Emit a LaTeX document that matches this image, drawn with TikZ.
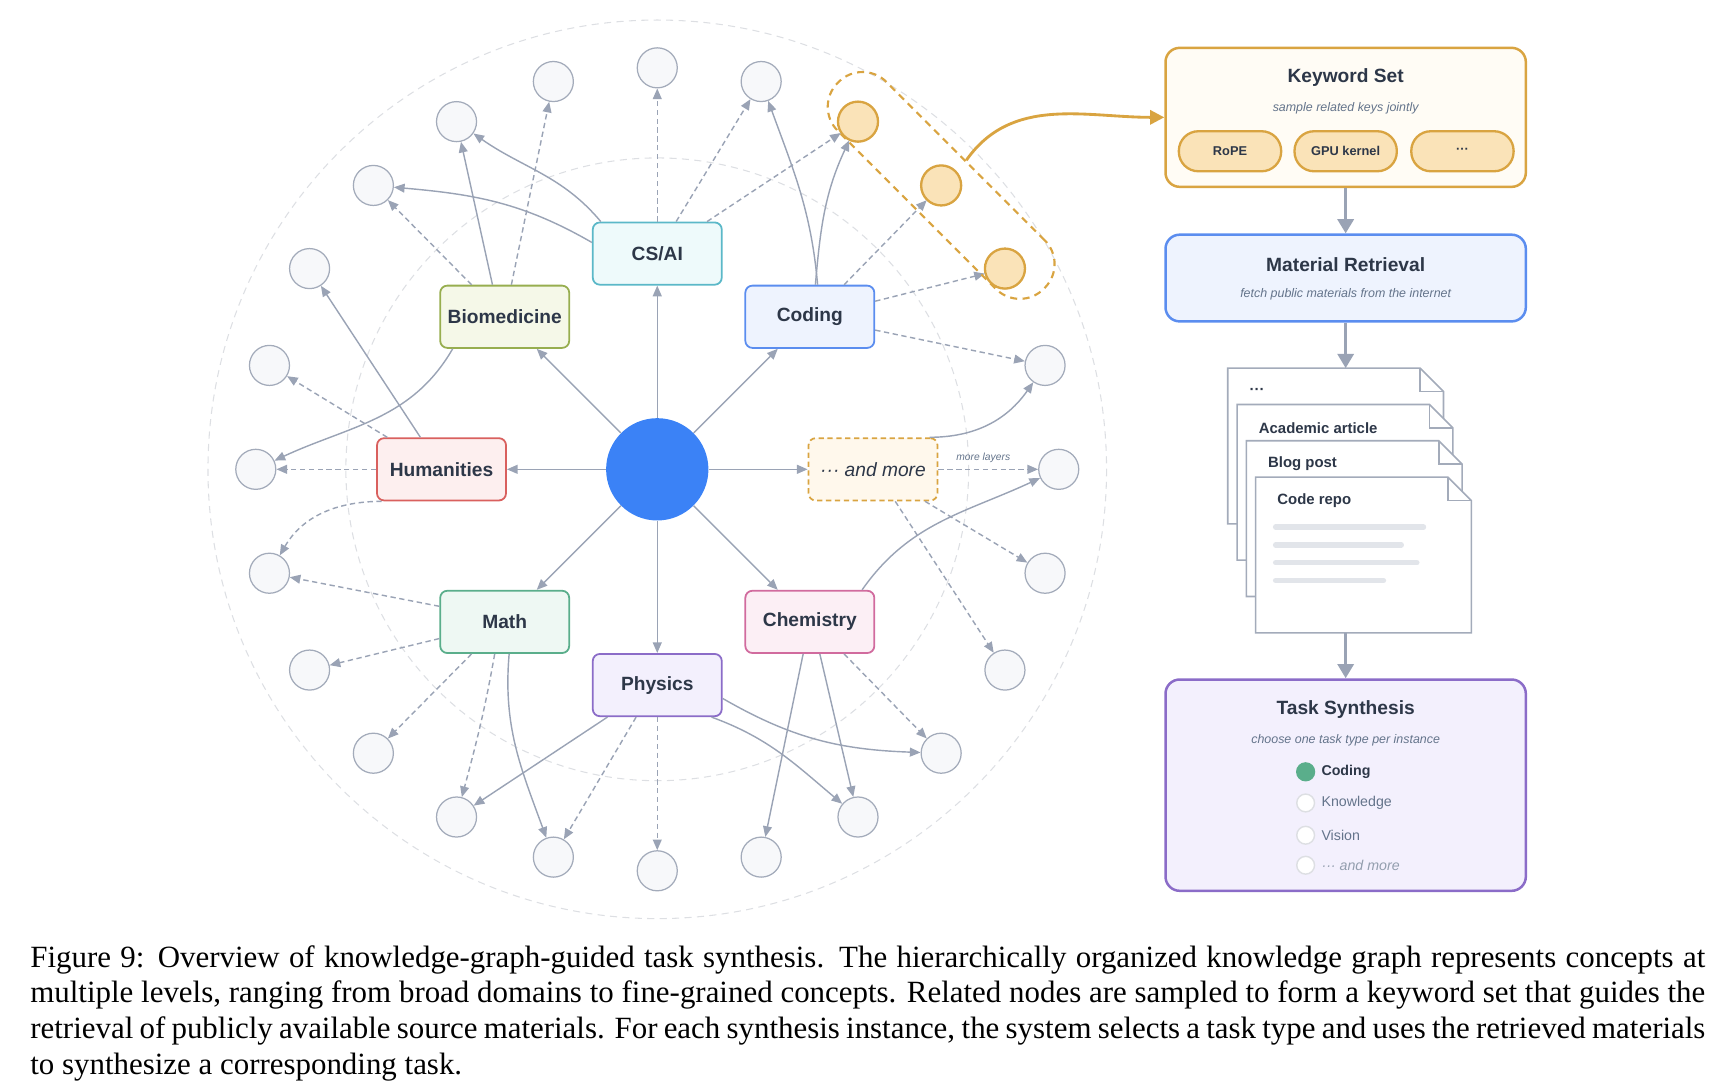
\documentclass[tikz,border=0pt]{standalone}
\usepackage{fontspec}
\setmainfont{Liberation Sans}
\newfontfamily\capfont{Liberation Serif}
\usetikzlibrary{arrows.meta,calc}

\definecolor{txt}{HTML}{2D3748}
\definecolor{subtxt}{HTML}{64748B}
\definecolor{edgegray}{HTML}{9AA3B5}
\definecolor{leafline}{HTML}{A3ABBA}
\definecolor{leaffill}{HTML}{F7F8FA}
\definecolor{orng}{HTML}{D9A441}
\definecolor{orngfill}{HTML}{FAE3B8}
\definecolor{kwfill}{HTML}{FFFCF5}
\definecolor{bluebd}{HTML}{5B8DEF}
\definecolor{bluefill}{HTML}{EEF3FE}
\definecolor{hubblue}{HTML}{3B82F6}
\definecolor{purpbd}{HTML}{8B6CC8}
\definecolor{purpfill}{HTML}{F3F0FD}
\definecolor{tealbd}{HTML}{5BB8C8}
\definecolor{tealfill}{HTML}{EEFAFB}
\definecolor{pinkbd}{HTML}{D16B9E}
\definecolor{pinkfill}{HTML}{FCEFF5}
\definecolor{greenbd}{HTML}{5AAE8B}
\definecolor{greenfill}{HTML}{EEF8F3}
\definecolor{redbd}{HTML}{D9605E}
\definecolor{redfill}{HTML}{FDEFEF}
\definecolor{olivebd}{HTML}{97AE4F}
\definecolor{olivefill}{HTML}{F5F8E8}
\definecolor{morefill}{HTML}{FFF8EC}
\definecolor{ringgray}{HTML}{DDDFE3}
\definecolor{barcol}{HTML}{E2E5EA}

\def\px{0.022cm}

\tikzset{
  leafnode/.style={circle, draw=leafline, fill=leaffill, line width=0.7pt, minimum size=36*\px, inner sep=0pt},
  orangeleaf/.style={leafnode, draw=orng, fill=orngfill, line width=1.3pt},
  domainbox/.style={rectangle, rounded corners=4pt, line width=1pt, minimum width=116*\px, minimum height=56*\px,
    font=\fontsize{10.8}{12}\selectfont\bfseries, text=txt},
  solidarr/.style={draw=edgegray, line width=0.8pt, -{Triangle[length=6pt,width=5pt]}},
  dashedarr/.style={solidarr, dash pattern=on 3pt off 2pt},
  flowarr/.style={draw=edgegray, line width=1.8pt, -{Triangle[length=8pt,width=9pt]}},
  panel/.style={rectangle, rounded corners=8pt, line width=1.4pt, minimum width=324*\px},
  ptitle/.style={font=\fontsize{10.8}{12}\selectfont\bfseries, text=txt},
  psub/.style={font=\fontsize{7}{8}\selectfont\itshape, text=subtxt},
  pill/.style={rectangle, rounded corners=11pt, draw=orng, fill=orngfill, line width=1.3pt,
    minimum width=92*\px, minimum height=36*\px, font=\fontsize{7.2}{8}\selectfont\bfseries, text=txt},
  radio/.style={circle, draw=ringgray, fill=white, line width=0.8pt, minimum size=16*\px, inner sep=0pt},
}

\begin{document}
\begin{tikzpicture}[x=\px, y=-\px]
\useasboundingbox (0,0) rectangle (1552,975);

% rings
\coordinate (ctr) at (591,422);
\draw[ringgray, dash pattern=on 4pt off 3pt, line width=0.6pt] (ctr) circle (404);
\draw[ringgray, dash pattern=on 4pt off 3pt, line width=0.6pt] (ctr) circle (280);

% leaves
\foreach \k in {0,...,23}
    \path (ctr) ++({-15*\k}:361) node[leafnode] (l\k) {};
\foreach \k in {2,3,4}
    \node[orangeleaf] at (l\k) {};

% center and domains
\node[circle, fill=hubblue, minimum size=92*\px] (hub) at (ctr) {};
\path (ctr) ++(-90:194) node[domainbox, draw=tealbd, fill=tealfill] (csai) {CS/AI};
\path (ctr) ++(-45:194) node[domainbox, draw=bluebd, fill=bluefill] (coding) {Coding};
\path (ctr) ++(0:194) node[domainbox, draw=orng, fill=morefill, dash pattern=on 3pt off 2pt,
    font=\fontsize{10.8}{12}\selectfont\itshape] (more) {··· and more};
\path (ctr) ++(45:194) node[domainbox, draw=pinkbd, fill=pinkfill] (chem) {Chemistry};
\path (ctr) ++(90:194) node[domainbox, draw=purpbd, fill=purpfill] (phys) {Physics};
\path (ctr) ++(135:194) node[domainbox, draw=greenbd, fill=greenfill] (math) {Math};
\path (ctr) ++(180:194) node[domainbox, draw=redbd, fill=redfill] (hum) {Humanities};
\path (ctr) ++(-135:194) node[domainbox, draw=olivebd, fill=olivefill] (bio) {Biomedicine};

\foreach \d in {csai,coding,more,chem,phys,math,hum,bio}
    \draw[solidarr] (hub) -- (\d);

% CS/AI
\draw[dashedarr] (csai) -- (l6);
\draw[dashedarr] (csai.north) ++(17,0) -- (l5);
\draw[dashedarr] (csai.north east) ++(-14,0) -- (l4);
\draw[solidarr] (csai.north west) ++(8,0) to[out=130, in=-35] (l8);
\draw[solidarr] (csai.west) ++(0,-10) to[out=150, in=-5] (l9);

% Coding
\draw[solidarr] (coding.north) ++(7,0) to[out=95, in=-70] (l5);
\draw[solidarr] (coding.north) ++(5,0) to[out=85, in=-115] (l4);
\draw[dashedarr] (coding.north east) ++(-28,0) -- (l3);
\draw[dashedarr] (coding.east) ++(0,-14) -- (l2);
\draw[dashedarr] (coding.east) ++(0,12) -- (l1);

% more layers
\draw[solidarr] (more.north east) ++(-8,0) to[out=0, in=-125] (l1);
\draw[dashedarr] (more) -- node[above, psub, font=\fontsize{5.8}{6}\selectfont\itshape, pos=0.45] {more layers} (l0);
\draw[dashedarr] (more.south east) ++(-12,0) -- (l23);
\draw[dashedarr] (more.south) ++(20,0) -- (l22);

% Chemistry
\draw[solidarr] (chem.north) ++(47,0) to[out=55, in=-155] (l0);
\draw[dashedarr] (chem.south east) ++(-28,0) -- (l21);
\draw[solidarr] (chem.south) ++(9,0) -- (l20);
\draw[solidarr] (chem.south) ++(-6,0) -- (l19);

% Physics
\draw[dashedarr] (phys) -- (l18);
\draw[dashedarr] (phys.south) ++(-19,0) -- (l17);
\draw[solidarr] (phys.south west) ++(14,0) -- (l16);
\draw[solidarr] (phys.south east) ++(-10,0) to[out=-20, in=140] (l20);
\draw[solidarr] (phys.east) ++(0,12) to[out=-30, in=178] (l21);

% Math
\draw[dashedarr] (math.west) ++(0,-14) -- (l13);
\draw[dashedarr] (math.west) ++(0,15) -- (l14);
\draw[dashedarr] (math.south west) ++(29,0) -- (l15);
\draw[dashedarr] (math.south) ++(-9,0) to[out=-100, in=75] (l16);
\draw[solidarr] (math.south) ++(4,0) to[out=-95, in=110] (l17);

% Humanities
\draw[dashedarr] (hum) -- (l12);
\draw[dashedarr] (hum.north west) ++(10,0) -- (l11);
\draw[solidarr] (hum.north) ++(-19,0) -- (l10);
\draw[dashedarr] (hum.south west) ++(5,0) to[out=180, in=60] (l13);

% Biomedicine
\draw[solidarr] (bio.south west) ++(12,0) to[out=-120, in=25] (l12);
\draw[dashedarr] (bio.north west) ++(29,0) -- (l9);
\draw[solidarr] (bio.north) ++(-11,0) -- (l8);
\draw[dashedarr] (bio.north) ++(6,0) -- (l7);

% sampled keys
\node[draw=orng, line width=1.2pt, dash pattern=on 4pt off 3pt, rounded corners=19pt,
    minimum width=262*\px, minimum height=62*\px, rotate=-45] (grp) at (l3) {};

% Keyword Set
\node[panel, draw=orng, fill=kwfill, minimum height=125*\px] (kw) at (1210,105.5) {};
\node[ptitle] (kwt) at (1210,70) {Keyword Set};
\node[psub] (kws) at (1210,97) {sample related keys jointly};
\node[pill] (k1) at (1106,136) {RoPE};
\node[pill] (k2) at (1210,136) {GPU kernel};
\node[pill] (k3) at (1315,136) {···};
\draw[orng, line width=1.6pt, -{Triangle[length=8pt,width=8pt]}] (grp.north) to[out=55, in=180] (kw.west);

% Material Retrieval
\node[panel, draw=bluebd, fill=bluefill, minimum height=78*\px] (mr) at (1210,250) {};
\node[ptitle] (mrt) at (1210,238) {Material Retrieval};
\node[psub] (mrs) at (1210,265) {fetch public materials from the internet};
\draw[flowarr] (kw) -- (mr);

% documents
\foreach \i/\t in {0/{\textbf{···}}, 1/{Academic article}, 2/{Blog post}, 3/{Code repo}}{
    \pgfmathsetmacro\dx{1104+8.33*\i}
    \pgfmathsetmacro\dy{331+32.67*\i}
    \draw[leafline, fill=white, line width=0.9pt] (\dx,\dy) -- ++(173,0) -- ++(21,21) -- ++(0,119) -- ++(-194,0) -- cycle;
    \draw[leafline, line width=0.9pt] (\dx+173,\dy) -- ++(0,21) -- ++(21,0);
    \node[anchor=west, font=\fontsize{8.4}{9}\selectfont\bfseries, text=txt] (doc\i) at (\dx+14,\dy+21) {\t};
}
\foreach \y/\w in {474/133, 490/113, 506/127, 522/97}
    \draw[barcol, line width=3pt, line cap=round] (1147,\y) -- ++(\w,0);
\coordinate (doctop) at (1210,331);
\coordinate (docbot) at (1210,569);
\draw[flowarr] (mr) -- (doctop);

% Task Synthesis
\node[panel, draw=purpbd, fill=purpfill, minimum height=190*\px] (ts) at (1210,706) {};
\node[ptitle] (tst) at (1210,638) {Task Synthesis};
\node[psub] (tss) at (1210,666) {choose one task type per instance};
\node[radio, draw=greenbd, fill=greenbd] (r1) at (1174,694) {};
\node[radio] (r2) at (1174,722) {};
\node[radio] (r3) at (1174,751) {};
\node[radio] (r4) at (1174,778) {};
\node[anchor=west, font=\fontsize{8}{9}\selectfont\bfseries, text=txt] at (r1.east) {Coding};
\node[anchor=west, font=\fontsize{8}{9}\selectfont, text=subtxt] at (r2.east) {Knowledge};
\node[anchor=west, font=\fontsize{8}{9}\selectfont, text=subtxt] at (r3.east) {Vision};
\node[anchor=west, font=\fontsize{8}{9}\selectfont\itshape, text=subtxt!70] at (r4.east) {··· and more};
\draw[flowarr] (docbot) -- (ts);

% caption
\node[anchor=north west, inner sep=0pt, text width=1506*\px, align=justify,
    font=\capfont\fontsize{17.4}{20}\selectfont] (cap) at (27,850)
    {Figure 9: Overview of knowledge-graph-guided task synthesis. The hierarchically organized knowledge graph represents concepts at multiple levels, ranging from broad domains to fine-grained concepts. Related nodes are sampled to form a keyword set that guides the retrieval of publicly available source materials. For each synthesis instance, the system selects a task type and uses the retrieved materials to synthesize a corresponding task.};
\end{tikzpicture}
\end{document}
